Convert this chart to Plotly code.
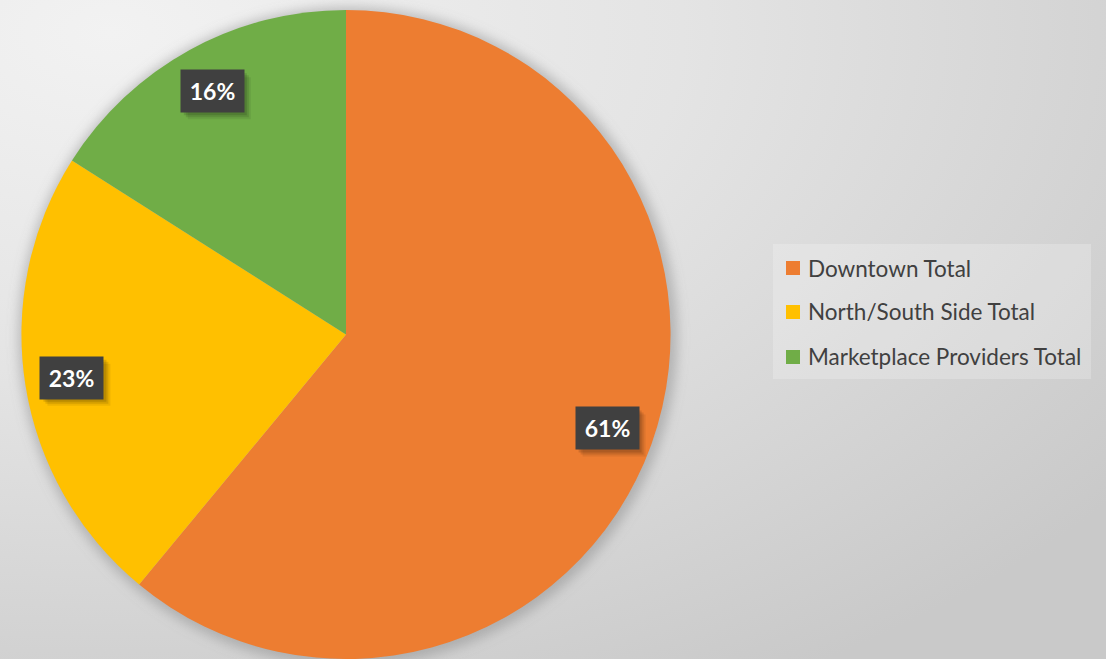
import base64
import math
import plotly.graph_objects as go

# ---- data ----
labels = ["Downtown Total", "North/South Side Total", "Marketplace Providers Total"]
values = [61, 23, 16]
colors = ["#ED7D31", "#FFC000", "#70AD47"]

W, H = 1106, 659
FONT = "Lato"

# pie placement (paper fractions)
dom_x = [21 / W, 671 / W]
dom_y = [0.0, 0.985]

# pixel geometry of pie derived from domain
cx = (dom_x[0] + dom_x[1]) / 2 * W
cy = (1 - (dom_y[0] + dom_y[1]) / 2) * H
r = min((dom_x[1] - dom_x[0]) * W, (dom_y[1] - dom_y[0]) * H) / 2

# background: gradient + soft pie shadow, as an SVG image
svg = f'''<svg xmlns="http://www.w3.org/2000/svg" width="{W}" height="{H}" viewBox="0 0 {W} {H}">
<defs>
<radialGradient id="g" cx="0.1" cy="0.05" r="1.15">
<stop offset="0" stop-color="#f2f2f2"/>
<stop offset="0.45" stop-color="#e4e4e4"/>
<stop offset="1" stop-color="#c9c9c9"/>
</radialGradient>
<filter id="b" x="-20%" y="-20%" width="140%" height="140%"><feGaussianBlur stdDeviation="6"/></filter>
</defs>
<rect width="{W}" height="{H}" fill="url(#g)"/>
<circle cx="{cx + 2:.1f}" cy="{cy + 2:.1f}" r="{r + 5:.1f}" fill="rgba(130,130,130,0.45)" filter="url(#b)"/>
<rect x="773" y="244" width="318" height="135" fill="rgba(255,255,255,0.22)"/>
</svg>'''
src = "data:image/svg+xml;base64," + base64.b64encode(svg.encode()).decode()

fig = go.Figure()
fig.add_trace(go.Pie(
    labels=labels,
    values=values,
    sort=False,
    direction="clockwise",
    rotation=0,
    marker=dict(colors=colors, line=dict(width=0)),
    textinfo="none",
    hoverinfo="label+percent",
    showlegend=False,
    domain=dict(x=dom_x, y=dom_y),
))

BOX_W, BOX_H = 63, 42

# data labels: dark boxes placed along each slice's mid angle
total = sum(values)
cum = 0
annotations = []
shapes = []
for v in values:
    mid = (cum + v / 2) / total * 2 * math.pi
    cum += v
    px = cx + 0.855 * r * math.sin(mid)
    py = cy - 0.855 * r * math.cos(mid)
    ax, ay = px / W, 1 - py / H
    txt = f"{round(v / total * 100)}%"
    # soft shadow (layered rectangles, pixel-sized)
    for off, alpha in ((7, 0.07), (5, 0.10), (3, 0.12)):
        shapes.append(dict(
            type="rect", xref="paper", yref="paper",
            xsizemode="pixel", ysizemode="pixel", xanchor=ax, yanchor=ay,
            x0=-BOX_W / 2 + off, x1=BOX_W / 2 + off,
            y0=-BOX_H / 2 - off, y1=BOX_H / 2 - off,
            fillcolor=f"rgba(0,0,0,{alpha})", line=dict(width=0),
        ))
    annotations.append(dict(
        x=ax, y=ay, xref="paper", yref="paper", showarrow=False,
        xanchor="center", yanchor="middle",
        text=f"<b>{txt}</b>", font=dict(family=FONT, size=23, color="white"),
        bgcolor="#404040", width=BOX_W - 8, height=BOX_H - 8, borderpad=4,
    ))

# legend (manual, to match spacing)
row_y = [268, 312, 357]
for lab, col, yy in zip(labels, colors, row_y):
    shapes.append(dict(
        type="rect", xref="paper", yref="paper",
        x0=786 / W, x1=800 / W, y0=1 - (yy + 7) / H, y1=1 - (yy - 7) / H,
        fillcolor=col, line=dict(width=0),
    ))
    annotations.append(dict(
        x=806 / W, y=1 - yy / H, xref="paper", yref="paper", showarrow=False,
        xanchor="left", yanchor="middle", text=lab,
        font=dict(family=FONT, size=22.5, color="#404040"),
    ))

fig.update_layout(
    width=W, height=H,
    margin=dict(l=0, r=0, t=0, b=0),
    paper_bgcolor="#dddddd",
    plot_bgcolor="rgba(0,0,0,0)",
    images=[dict(source=src, xref="paper", yref="paper", x=0, y=1,
                 sizex=1, sizey=1, sizing="stretch", layer="below",
                 xanchor="left", yanchor="top")],
    annotations=annotations,
    shapes=shapes,
    xaxis=dict(visible=False), yaxis=dict(visible=False),
)

fig.write_html(
    "out.html",
    config={"displayModeBar": False},
    post_script="document.body.style.margin='0';document.body.style.overflow='hidden';",
)
